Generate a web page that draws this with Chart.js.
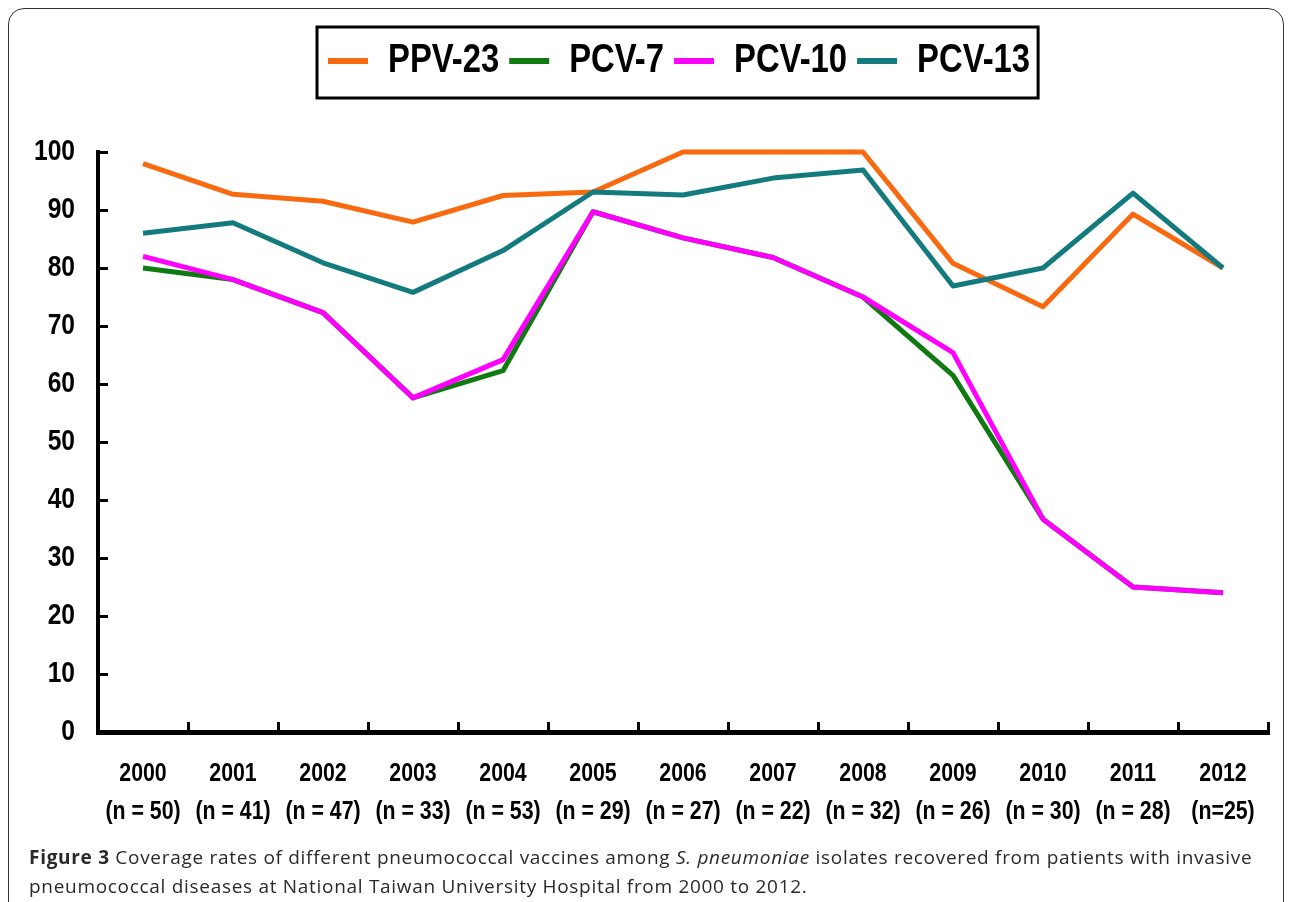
<!DOCTYPE html>
<html>
<head>
<meta charset="utf-8">
<script src="https://cdn.jsdelivr.net/npm/chart.js@4.4.1/dist/chart.umd.min.js"></script>
<style>
  html, body { margin: 0; padding: 0; background: #fff; }
  body { width: 1290px; height: 902px; position: relative; overflow: hidden; }
  #frame { position: absolute; left: 8px; top: 8px; width: 1276px; height: 920px;
           border: 1.5px solid #333; border-radius: 16px; box-sizing: border-box; }
  #wrap { position: absolute; left: 0; top: 0; width: 1290px; height: 845px; }
  #caption { position: absolute; left: 29px; top: 843px; width: 1250px;
             font-family: 'Open Sans', 'Noto Sans', sans-serif; font-size: 19px;
             letter-spacing: 0.7px; line-height: 29px; color: #2a2a2a; }
  #caption b { font-weight: 700; }
</style>
</head>
<body>
<div id="frame"></div>
<div id="wrap"><canvas id="c" width="1290" height="845"></canvas></div>
<div id="caption"><b>Figure 3</b> Coverage rates of different pneumococcal vaccines among <i>S. pneumoniae</i> isolates recovered from patients with invasive pneumococcal diseases at National Taiwan University Hospital from 2000 to 2012.</div>
<script>
const years = ['2000','2001','2002','2003','2004','2005','2006','2007','2008','2009','2010','2011','2012'];
const nLabels = ['(n = 50)','(n = 41)','(n = 47)','(n = 33)','(n = 53)','(n = 29)','(n = 27)','(n = 22)','(n = 32)','(n = 26)','(n = 30)','(n = 28)','(n=25)'];
const ppv23 = [98.0, 92.7, 91.5, 87.9, 92.5, 93.1, 100, 100, 100, 80.8, 73.3, 89.3, 80.0];
const pcv7  = [80.0, 78.0, 72.3, 57.6, 62.3, 89.7, 85.2, 81.8, 75.0, 61.5, 36.7, 25.0, 24.0];
const pcv10 = [82.0, 78.0, 72.3, 57.6, 64.2, 89.7, 85.2, 81.8, 75.0, 65.4, 36.7, 25.0, 24.0];
const pcv13 = [86.0, 87.8, 80.9, 75.8, 83.0, 93.1, 92.6, 95.5, 96.9, 76.9, 80.0, 92.9, 80.0];
const yTicks = [0, 10, 20, 30, 40, 50, 60, 70, 80, 90, 100];

const labels = years.map((y, i) => [y, nLabels[i]]);
const FONT = "'Liberation Sans', Arial, sans-serif";

// Emulate a narrow (condensed) bold face: compress canvas text horizontally.
const canvas = document.getElementById('c');
const ctx = canvas.getContext('2d');
const SX = 0.82;
const origFill = ctx.fillText.bind(ctx);
const origMeasure = ctx.measureText.bind(ctx);
ctx.fillText = function (t, x, y) {
  ctx.save(); ctx.translate(x, y); ctx.scale(SX, 1); origFill(t, 0, 0); ctx.restore();
};
ctx.measureText = function (t) {
  const m = origMeasure(t);
  return { width: m.width * SX,
           actualBoundingBoxAscent: m.actualBoundingBoxAscent,
           actualBoundingBoxDescent: m.actualBoundingBoxDescent,
           actualBoundingBoxLeft: m.actualBoundingBoxLeft * SX,
           actualBoundingBoxRight: m.actualBoundingBoxRight * SX };
};

const legendPlugin = {
  id: 'legendFrame',
  beforeLayout(chart) {
    const lg = chart.legend;
    if (lg && !lg._patched) {
      const orig = lg.fit;
      lg.fit = function () { orig.call(this); this.height = 121; };
      lg._patched = true;
    }
  },
  afterLayout(chart) {
    const lg = chart.legend;
    if (!lg) return;
    const pad = lg.options.labels.padding;
    lg.left = 328 - pad;
    lg.right = 1290;
  },
  afterDraw(chart) {
    const lg = chart.legend;
    if (!lg || !lg.legendHitBoxes || !lg.legendHitBoxes.length) return;
    const hb = lg.legendHitBoxes;
    const first = hb[0], last = hb[hb.length - 1];
    const x0 = first.left - 11, x1 = last.left + last.width + 8;
    const y0 = first.top - 14, y1 = first.top + first.height + 17;
    const c = chart.ctx;
    c.save();
    c.strokeStyle = '#000';
    c.lineWidth = 3;
    c.strokeRect(x0, y0, x1 - x0, y1 - y0);
    c.restore();
  }
};

new Chart(ctx, {
  type: 'line',
  data: {
    labels: labels,
    datasets: [
      { label: 'PPV-23', data: ppv23, borderColor: '#F96A10', backgroundColor: '#F96A10', order: 4 },
      { label: 'PCV-7',  data: pcv7,  borderColor: '#0E7A10', backgroundColor: '#0E7A10', order: 3 },
      { label: 'PCV-10', data: pcv10, borderColor: '#FF00FF', backgroundColor: '#FF00FF', order: 1 },
      { label: 'PCV-13', data: pcv13, borderColor: '#137A7E', backgroundColor: '#137A7E', order: 2 }
    ].map(d => Object.assign(d, { borderWidth: 5, pointRadius: 0, pointHoverRadius: 0, tension: 0, fill: false, clip: false, borderJoinStyle: 'round' }))
  },
  options: {
    responsive: false,
    animation: false,
    devicePixelRatio: 1,
    layout: { padding: { top: 31, left: 0, right: 22, bottom: 0 } },
    plugins: {
      tooltip: { enabled: false },
      title: { display: false },
      legend: {
        display: true,
        position: 'top',
        align: 'start',
        labels: {
          boxWidth: 40,
          boxHeight: 6,
          padding: 10,
          color: '#000',
          font: { family: FONT, size: 40, weight: 'bold' },
          sort: (a, b) => a.datasetIndex - b.datasetIndex,
          generateLabels: (chart) => {
            const items = Chart.defaults.plugins.legend.labels.generateLabels(chart);
            return items.map(it => Object.assign(it, { lineWidth: 0, fillStyle: it.strokeStyle }));
          }
        }
      }
    },
    scales: {
      x: {
        type: 'category',
        offset: true,
        grid: { display: true, offset: true, drawOnChartArea: false, drawTicks: true, tickLength: -10, color: '#000', lineWidth: 3 },
        border: { display: true, color: '#000', width: 5 },
        ticks: {
          color: '#000', padding: 33, maxRotation: 0, autoSkip: false,
          font: { family: FONT, size: 26, weight: 'bold', lineHeight: 1.46 }
        },
        afterFit: (s) => { s.height = 113; }
      },
      y: {
        min: 0, max: 100,
        afterBuildTicks: (s) => { s.ticks = yTicks.map(v => ({ value: v })); },
        grid: { display: true, drawOnChartArea: false, drawTicks: true, tickLength: -10, color: '#000', lineWidth: 3 },
        border: { display: true, color: '#000', width: 4 },
        ticks: {
          color: '#000', padding: 33,
          font: { family: FONT, size: 30, weight: 'bold' }
        },
        afterFit: (s) => { s.width = 98; }
      }
    }
  },
  plugins: [legendPlugin]
});
</script>
</body>
</html>
